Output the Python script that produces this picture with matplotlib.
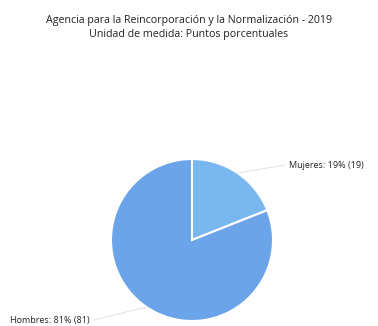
import matplotlib
matplotlib.use("Agg")
import matplotlib.pyplot as plt
import numpy as np

# datos
categorias = ["Mujeres", "Hombres"]
valores = [19, 81]
colores = ["#78b8ef", "#6ca4ea"]
titulo = "Agencia para la Reincorporación y la Normalización - 2019"
subtitulo = "Unidad de medida: Puntos porcentuales"

plt.rcParams['font.family'] = ['Open Sans', 'DejaVu Sans']

fig = plt.figure(figsize=(3.78, 3.26), dpi=100)
ax = fig.add_axes([0, 0, 1, 1])
ax.set_aspect('equal')
ax.axis('off')

centro = (192, 86)
radio = 81
wedges, _ = ax.pie(valores, colors=colores, startangle=90, counterclock=False,
                   center=centro, radius=radio,
                   wedgeprops=dict(edgecolor='white', linewidth=1.5))
ax.set_xlim(0, 378)
ax.set_ylim(0, 326)

# etiquetas con lineas guia
total = sum(valores)
pos_etiquetas = [(289, 161, 'left'), (90, 6, 'right')]
for w, cat, v, (tx, ty, ha) in zip(wedges, categorias, valores, pos_etiquetas):
    ang = np.deg2rad((w.theta1 + w.theta2) / 2)
    px = centro[0] + radio * np.cos(ang)
    py = centro[1] + radio * np.sin(ang)
    lx = tx - 4 if ha == 'left' else tx + 4
    ax.plot([px, lx], [py, ty], color='#dddddd', linewidth=0.6)
    pct = round(100 * v / total)
    ax.text(tx, ty, f"{cat}: {pct}% ({v})", ha=ha, va='center',
            fontsize=6.5, color='#222222')

fig.text(0.5, 1 - 20 / 326, titulo, ha='center', va='center', fontsize=7.7, color='#222222')
fig.text(0.5, 1 - 35 / 326, subtitulo, ha='center', va='center', fontsize=7.7, color='#222222')

fig.savefig("out.png", dpi=100, facecolor='white')
